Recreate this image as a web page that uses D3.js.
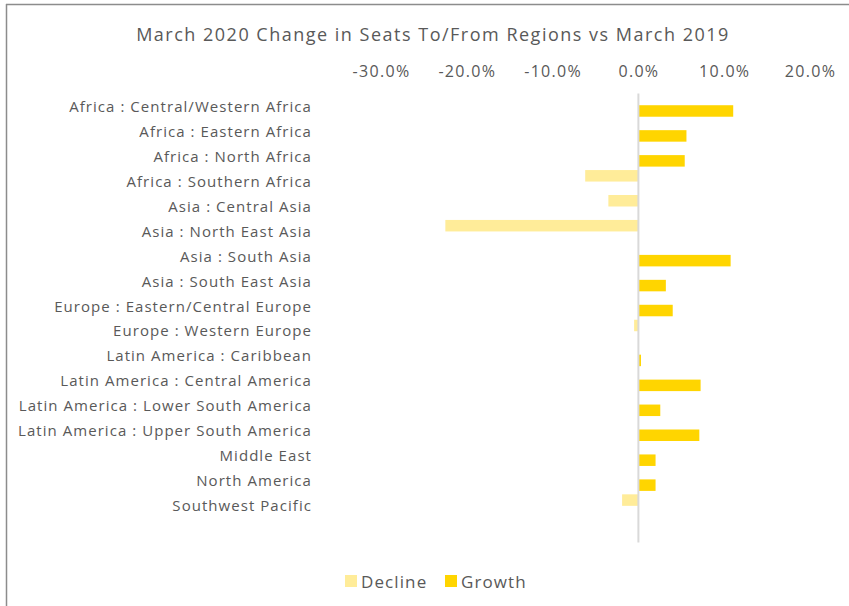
<!DOCTYPE html>
<html>
<head>
  <meta charset="utf-8">
  <style>
    body { margin: 0; background: #fff; }
    text { font-family: "Open Sans", sans-serif; fill: #595959; }
  </style>
</head>
<body>
<div id="chart"></div>
<script src="https://d3js.org/d3.v7.min.js"></script>
<script>
  // regions, top to bottom
  const categories = [
    "Africa : Central/Western Africa",
    "Africa : Eastern Africa",
    "Africa : North Africa",
    "Africa : Southern Africa",
    "Asia : Central Asia",
    "Asia : North East Asia",
    "Asia : South Asia",
    "Asia : South East Asia",
    "Europe : Eastern/Central Europe",
    "Europe : Western Europe",
    "Latin America : Caribbean",
    "Latin America : Central America",
    "Latin America : Lower South America",
    "Latin America : Upper South America",
    "Middle East",
    "North America",
    "Southwest Pacific"
  ];
  // % change, null = no bar in that series
  const decline = [null, null, null, -6.2, -3.5, -22.5, null, null, null, -0.5, null, null, null, null, null, null, -1.9];
  const growth  = [11.05, 5.6, 5.4, null, null, null, 10.75, 3.2, 4.0, null, 0.3, 7.25, 2.55, 7.1, 2.0, 2.0, null];
  const tickValues = [-30, -20, -10, 0, 10, 20];
  const seriesNames = ["Decline", "Growth"];
  const seriesColors = ["#FFEC99", "#FFD500"];

  const width = 849, height = 606;
  const svg = d3.select('#chart').append('svg')
    .attr('width', width)
    .attr('height', height);

  // frame (top + left edges only)
  svg.append('line').attr('x1', 6).attr('x2', width).attr('y1', 4.5).attr('y2', 4.5)
    .attr('stroke', '#8c8c8c').attr('stroke-width', 1.5);
  svg.append('line').attr('x1', 6.5).attr('x2', 6.5).attr('y1', 4).attr('y2', height)
    .attr('stroke', '#8c8c8c').attr('stroke-width', 1.5);

  svg.append('text')
    .attr('x', 433).attr('y', 34)
    .attr('text-anchor', 'middle')
    .attr('dominant-baseline', 'central')
    .style('font-size', '18px')
    .style('letter-spacing', '1.5px')
    .text('March 2020 Change in Seats To/From Regions vs March 2019');

  const x = d3.scaleLinear().domain([-30, 20]).range([381, 810]);
  // trailing blank slot like the pivot chart
  const y = d3.scaleBand().domain([...categories, ""]).range([93.5, 542.5]);
  const inner = d3.scaleBand().domain(seriesNames)
    .range([y.bandwidth() / 2 - 10, y.bandwidth() / 2 + 10]);

  const xAxis = svg.append('g')
    .attr('transform', 'translate(0,71)')
    .call(d3.axisTop(x).tickValues(tickValues).tickSize(0).tickPadding(0)
      .tickFormat(d => d.toFixed(1) + '%'));
  xAxis.select('.domain').remove();
  xAxis.selectAll('text')
    .attr('dy', null).attr('y', 0)
    .attr('dominant-baseline', 'central')
    .style('font-size', '16px')
    .style('letter-spacing', '1.3px')
    .attr('fill', null);

  const yAxis = svg.append('g')
    .attr('transform', 'translate(312,0)')
    .call(d3.axisLeft(y).tickValues(categories).tickSize(0).tickPadding(0));
  yAxis.select('.domain').remove();
  yAxis.selectAll('text')
    .attr('dy', null)
    .attr('dominant-baseline', 'central')
    .style('font-size', '15px')
    .style('letter-spacing', '1.05px')
    .attr('fill', null);

  const series = [decline, growth];
  series.forEach((vals, s) => {
    svg.append('g').selectAll('rect')
      .data(categories.map((c, i) => ({ c, v: vals[i] })).filter(d => d.v !== null))
      .enter().append('rect')
      .attr('x', d => x(Math.min(0, d.v)))
      .attr('width', d => Math.abs(x(d.v) - x(0)))
      .attr('y', d => y(d.c) + inner(seriesNames[s]) - 0.75)
      .attr('height', inner.bandwidth() + 1.5)
      .attr('fill', seriesColors[s]);
  });

  svg.append('line')
    .attr('x1', x(0)).attr('x2', x(0))
    .attr('y1', y.range()[0]).attr('y2', y.range()[1])
    .attr('stroke', '#d9d9d9').attr('stroke-width', 2);

  // legend
  const legendX = [345, 445];
  const legend = svg.append('g').selectAll('g')
    .data(seriesNames).enter().append('g')
    .attr('transform', (d, i) => `translate(${legendX[i]},581)`);
  legend.append('rect')
    .attr('x', 0).attr('y', -6).attr('width', 12).attr('height', 12)
    .attr('fill', (d, i) => seriesColors[i]);
  legend.append('text')
    .attr('x', 16).attr('y', 0)
    .attr('dominant-baseline', 'central')
    .style('font-size', '17px')
    .style('letter-spacing', '1.1px')
    .text(d => d);
</script>
</body>
</html>
